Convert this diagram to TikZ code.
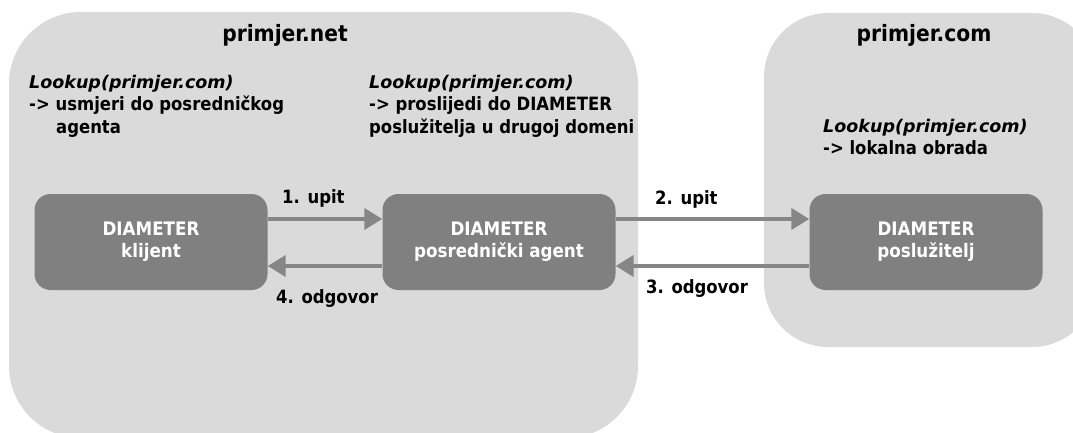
\documentclass[tikz,border=0pt]{standalone}
\usepackage{fontspec}
\setmainfont{DejaVu Sans Condensed}
\newfontfamily\lookupfont{DejaVu Sans}
\usetikzlibrary{arrows.meta}
\definecolor{regionfill}{HTML}{DADADA}
\definecolor{boxfill}{HTML}{808080}
\definecolor{arrowgray}{HTML}{868686}
% first line of each routing note
\newcommand\lookupcall{{\lookupfont\bfseries\itshape\fontsize{17.5}{22}\selectfont Lookup(primjer.com)}}
\begin{document}
\begin{tikzpicture}[x=1pt,y=-1pt,
  region/.style={fill=regionfill},
  entity/.style={fill=boxfill, rounded corners=16pt, inner sep=0pt,
    minimum width=233pt, minimum height=96pt, text=white, align=center,
    font=\bfseries\fontsize{18.6}{22}\selectfont},
  note/.style={anchor=base west, align=left, inner sep=0pt,
    font=\bfseries\fontsize{18.3}{22}\selectfont},
  domaintitle/.style={anchor=base, inner sep=0pt,
    font=\bfseries\fontsize{22.5}{24}\selectfont},
  msglabel/.style={anchor=base west, inner sep=0pt,
    font=\bfseries\fontsize{18.3}{22}\selectfont},
  msg/.style={draw=arrowgray, line width=4pt,
    -{Triangle[length=18pt,width=21pt]}}]
\useasboundingbox (0,0) rectangle (1073,433);
\fill[white] (0,0) rectangle (1073,433);
\clip (0,0) rectangle (1073,433);

% the two domains
\fill[region, rounded corners=72pt] (9,12) rectangle (638,438);
\fill[region, rounded corners=64pt] (764,13) rectangle (1096,347);
\node[domaintitle] (netname) at (285,42) {primjer.net};
\node[domaintitle] (comname) at (924,42) {primjer.com};

% Diameter entities
\node[entity] (client) at (151,242) {DIAMETER\\klijent};
\node[entity] (agent)  at (499,242) {DIAMETER\\posrednički agent};
\node[entity] (server) at (926,242) {DIAMETER\\poslužitelj};

% routing decisions
\node[note] (clientnote) at (29,133)
  {\lookupcall\\-> usmjeri do posredničkog\\\hspace*{27pt}agenta};
\node[note] (agentnote) at (369,133)
  {\lookupcall\\-> proslijedi do DIAMETER\\poslužitelja u drugoj domeni};
\node[note] (servernote) at (823,154)
  {\lookupcall\\-> lokalna obrada};

% messages
\draw[msg] ([yshift=23pt]client.east) -- ([yshift=23pt]agent.west);
\draw[msg] ([yshift=23pt]agent.east) -- ([yshift=23pt]server.west);
\draw[msg] ([yshift=-24pt]server.west) -- ([yshift=-24pt]agent.east);
\draw[msg] ([yshift=-24pt]agent.west) -- ([yshift=-24pt]client.east);

\node[msglabel] (m1) at (282,203) {1. upit};
\node[msglabel] (m2) at (655,204) {2. upit};
\node[msglabel] (m3) at (646,293) {3. odgovor};
\node[msglabel] (m4) at (276,303) {4. odgovor};
\end{tikzpicture}
\end{document}
